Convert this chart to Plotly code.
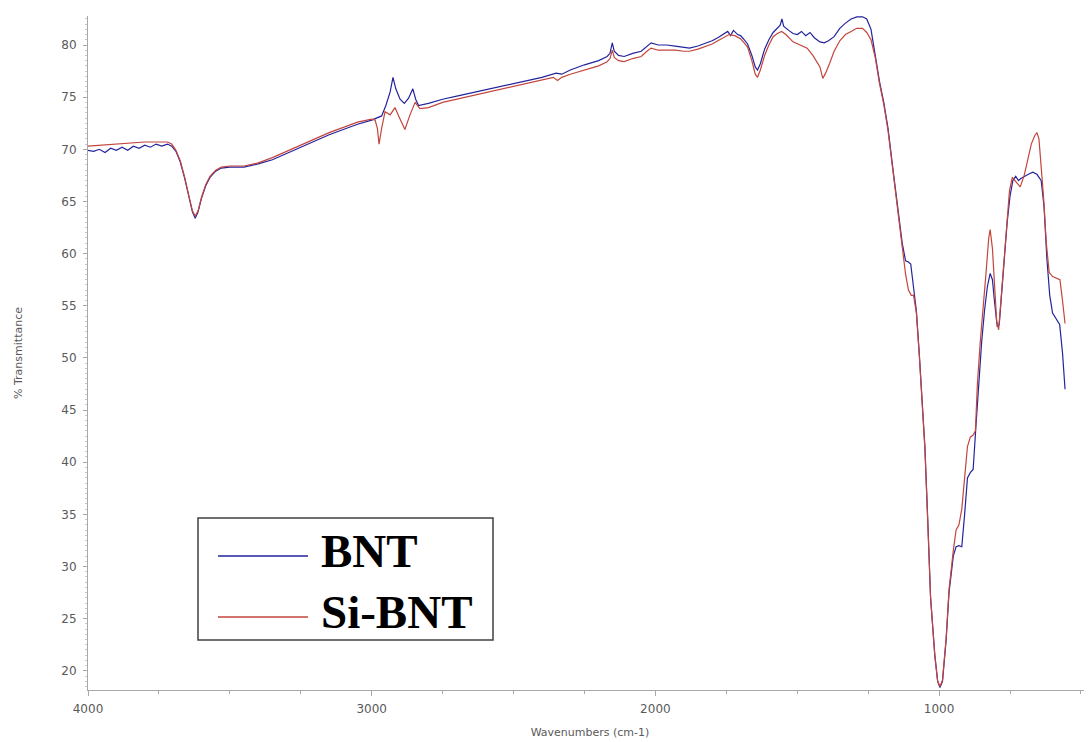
import plotly.graph_objects as go

# ---------------- data ----------------
bnt_wn = [4000, 3980, 3960, 3940, 3920, 3900, 3880, 3860, 3840, 3820, 3800, 3780, 3760, 3740, 3720, 3705,
          3690, 3675, 3660, 3645, 3632, 3622, 3612, 3600, 3585, 3570, 3550, 3530, 3500, 3450, 3400, 3350,
          3300, 3250, 3200, 3150, 3100, 3050, 3000, 2980, 2965, 2950, 2935, 2925, 2915, 2900, 2885, 2870,
          2855, 2845, 2835, 2800, 2750, 2700, 2650, 2600, 2550, 2500, 2450, 2400, 2350, 2330, 2300, 2250,
          2200, 2170, 2160, 2152, 2145, 2130, 2110, 2080, 2050, 2030, 2015, 1990, 1960, 1930, 1900, 1880,
          1850, 1820, 1800, 1780, 1760, 1745, 1735, 1725, 1710, 1700, 1690, 1675, 1660, 1648, 1640, 1630,
          1615, 1600, 1585, 1570, 1560, 1554, 1548, 1530, 1515, 1500, 1485, 1470, 1455, 1440, 1420, 1405,
          1390, 1370, 1350, 1330, 1310, 1290, 1270, 1255, 1240, 1225, 1210, 1195, 1180, 1160, 1145, 1130,
          1118, 1108, 1100, 1090, 1080, 1070, 1060, 1050, 1040, 1030, 1015, 1005, 997, 988, 975, 965,
          950, 940, 930, 920, 910, 900, 890, 880, 870, 860, 850, 840, 830, 820, 812, 805,
          795, 788, 780, 770, 760, 750, 740, 730, 720, 712, 700, 685, 670, 655, 640, 630,
          620, 610, 600, 585, 575, 565, 556]
bnt_t = [69.9, 69.8, 70.0, 69.7, 70.1, 69.9, 70.2, 69.9, 70.3, 70.1, 70.4, 70.2, 70.5, 70.3, 70.5, 70.3,
         69.8, 68.8, 67.3, 65.5, 64.0, 63.4, 64.0, 65.3, 66.5, 67.3, 67.9, 68.2, 68.3, 68.3, 68.6, 69.0,
         69.6, 70.2, 70.8, 71.4, 71.9, 72.4, 72.8, 73.0, 73.2, 74.2, 75.5, 76.9, 75.8, 74.8, 74.4, 74.9,
         75.8, 74.8, 74.2, 74.4, 74.8, 75.1, 75.4, 75.7, 76.0, 76.3, 76.6, 76.9, 77.3, 77.2, 77.6, 78.1,
         78.5, 78.9, 79.2, 80.2, 79.4, 79.0, 78.9, 79.2, 79.4, 79.9, 80.2, 80.0, 80.0, 79.9, 79.8, 79.7,
         79.9, 80.2, 80.4, 80.7, 81.0, 81.3, 80.9, 81.4, 81.0, 80.9, 80.6, 80.1, 79.0, 77.9, 77.6, 78.2,
         79.6, 80.5, 81.2, 81.6, 81.9, 82.5, 81.8, 81.4, 81.1, 81.0, 81.3, 80.9, 81.2, 80.7, 80.3, 80.2,
         80.4, 80.8, 81.6, 82.1, 82.5, 82.7, 82.7, 82.5, 81.5, 79.0, 76.5, 74.5, 72.0, 67.5, 64.0, 61.0,
         59.3, 59.2, 59.0, 57.0, 54.5, 50.5, 46.5, 41.5, 34.5, 27.0, 21.5, 19.0, 18.4, 19.0, 23.0, 27.5,
         31.0, 31.9, 32.0, 31.9, 35.0, 38.5, 39.0, 39.3, 43.5, 48.0, 51.5, 54.5, 56.8, 58.1, 57.5, 55.5,
         53.0, 53.2, 56.0, 59.5, 63.0, 65.5, 67.0, 67.4, 67.0, 67.2, 67.4, 67.6, 67.8, 67.6, 67.0, 64.5,
         59.5, 56.0, 54.3, 53.6, 53.2, 50.5, 47.0]

sibnt_wn = [4000, 3950, 3900, 3850, 3800, 3750, 3720, 3705, 3690, 3675, 3660, 3645, 3632, 3622, 3612, 3600,
            3585, 3570, 3550, 3530, 3500, 3450, 3400, 3350, 3300, 3250, 3200, 3150, 3100, 3050, 3000, 2988,
            2980, 2974, 2965, 2953, 2935, 2918, 2905, 2883, 2865, 2847, 2830, 2800, 2750, 2700, 2650, 2600,
            2550, 2500, 2450, 2400, 2360, 2345, 2330, 2300, 2250, 2200, 2170, 2160, 2152, 2145, 2130, 2110,
            2080, 2050, 2030, 2015, 1990, 1960, 1930, 1900, 1880, 1850, 1820, 1800, 1780, 1760, 1740, 1720,
            1700, 1690, 1675, 1660, 1648, 1640, 1630, 1615, 1600, 1585, 1570, 1555, 1540, 1515, 1490, 1465,
            1445, 1430, 1420, 1410, 1400, 1385, 1370, 1350, 1330, 1310, 1290, 1270, 1255, 1240, 1225, 1210,
            1195, 1180, 1160, 1145, 1130, 1118, 1108, 1098, 1090, 1080, 1070, 1060, 1050, 1040, 1030, 1015,
            1005, 997, 988, 975, 965, 950, 940, 930, 920, 910, 900, 890, 880, 872, 865, 855,
            845, 835, 825, 820, 812, 805, 797, 790, 782, 772, 762, 752, 742, 733, 722, 714,
            700, 688, 675, 663, 655, 648, 640, 632, 622, 612, 600, 585, 574, 565, 556]
sibnt_t = [70.3, 70.4, 70.5, 70.6, 70.7, 70.7, 70.7, 70.5, 69.9, 68.9, 67.4, 65.6, 64.1, 63.6, 64.1, 65.4,
           66.6, 67.4, 68.0, 68.3, 68.4, 68.4, 68.7, 69.2, 69.8, 70.4, 71.0, 71.6, 72.1, 72.6, 72.9, 72.8,
           72.0, 70.5, 72.0, 73.6, 73.3, 74.0, 73.2, 71.9, 73.3, 74.5, 73.9, 74.0, 74.5, 74.8, 75.1, 75.4,
           75.7, 76.0, 76.3, 76.6, 76.9, 76.6, 76.9, 77.2, 77.6, 78.0, 78.4, 78.7, 79.5, 78.8, 78.5, 78.4,
           78.7, 78.9, 79.4, 79.7, 79.5, 79.5, 79.5, 79.4, 79.4, 79.6, 79.9, 80.1, 80.4, 80.7, 81.0, 80.9,
           80.6, 80.3, 79.8, 78.5, 77.2, 76.9, 77.6, 79.0, 80.0, 80.8, 81.1, 81.3, 81.0, 80.3, 80.0, 79.7,
           79.0, 78.4, 77.9, 76.8, 77.3, 78.3, 79.4, 80.4, 81.0, 81.3, 81.6, 81.6, 81.2, 80.5, 78.8, 76.3,
           74.3, 71.8, 67.3, 63.8, 60.5, 58.0, 56.5, 56.0, 56.0, 54.3, 50.3, 46.2, 41.3, 34.3, 27.0, 21.4,
           19.0, 18.5, 19.1, 23.2, 27.8, 31.5, 33.5, 34.0, 35.5, 38.5, 41.5, 42.4, 42.6, 43.0, 47.5, 51.5,
           54.5, 58.0, 61.5, 62.3, 60.5, 57.0, 53.5, 52.7, 55.5, 59.0, 63.0, 66.0, 67.3, 67.0, 66.6, 66.4,
           67.5, 69.0, 70.5, 71.3, 71.6, 71.0, 68.5, 65.5, 61.0, 58.2, 57.8, 57.6, 57.5, 55.5, 53.3]

series_names = ["BNT", "Si-BNT"]
series_colors = ["#23239e", "#c4453c"]
x_ticks = [4000, 3000, 2000, 1000]
x_title = "Wavenumbers (cm-1)"
y_title = "% Transmittance"

# ---------------- figure ----------------
fig = go.Figure()
fig.add_trace(go.Scatter(x=bnt_wn, y=bnt_t, mode="lines", name=series_names[0],
                         line=dict(color=series_colors[0], width=1.2), showlegend=False))
fig.add_trace(go.Scatter(x=sibnt_wn, y=sibnt_t, mode="lines", name=series_names[1],
                         line=dict(color=series_colors[1], width=1.2), showlegend=False))

axis_grey = "#a8a8a8"
label_grey = "#5a5a5a"

# the page adds an 8px body margin, so the figure is 8px smaller each way
fig.update_layout(
    width=1084, height=734,
    margin=dict(l=80, r=0, t=8, b=52),
    paper_bgcolor="white", plot_bgcolor="white",
    font=dict(family="DejaVu Sans", size=12, color=label_grey),
    xaxis=dict(
        range=[4000, 461], tickvals=x_ticks, ticktext=[str(v) for v in x_ticks],
        showline=True, linecolor=axis_grey, linewidth=1,
        ticks="outside", ticklen=5, tickcolor=axis_grey,
        minor=dict(dtick=250, ticks="outside", ticklen=3, tickcolor=axis_grey),
        showgrid=False, zeroline=False, automargin=False,
        ticklabelstandoff=3,
        tickfont=dict(size=12, color=label_grey),
        title=dict(text=x_title, font=dict(size=11, color=label_grey), standoff=12),
    ),
    yaxis=dict(
        range=[18.16, 82.78], dtick=5, tick0=0,
        showline=True, linecolor=axis_grey, linewidth=1,
        ticks="outside", ticklen=4, tickcolor=axis_grey,
        minor=dict(dtick=0.5, ticks="outside", ticklen=2, tickcolor="#c8c8c8"),
        showgrid=False, zeroline=False, automargin=False,
        ticklabelstandoff=4,
        tickfont=dict(size=12, color=label_grey),
        title=dict(text=y_title, font=dict(size=11, color=label_grey), standoff=36),
    ),
)

# ---------------- legend box (drawn) ----------------
# page pixel -> paper coordinates (plot area spans x 88..1092, y 16..690 on the page)
def px_x(p):
    return (p - 88) / 1004.0

def px_y(p):
    return (690 - p) / 674.0

fig.add_shape(type="rect", xref="paper", yref="paper",
              x0=px_x(198), x1=px_x(493), y0=px_y(640), y1=px_y(518),
              line=dict(color="#404040", width=1.5), fillcolor="white", layer="above")
legend_rows = [556, 617]
for name, color, row in zip(series_names, series_colors, legend_rows):
    fig.add_shape(type="line", xref="paper", yref="paper",
                  x0=px_x(218), x1=px_x(308), y0=px_y(row), y1=px_y(row),
                  line=dict(color=color, width=1.3), layer="above")
    fig.add_annotation(xref="paper", yref="paper", x=px_x(319), y=px_y(row - 5),
                       xanchor="left", yanchor="middle", showarrow=False,
                       text="<b>%s</b>" % name,
                       font=dict(family="Liberation Serif", size=47, color="black"))

fig.write_html("out.html")
